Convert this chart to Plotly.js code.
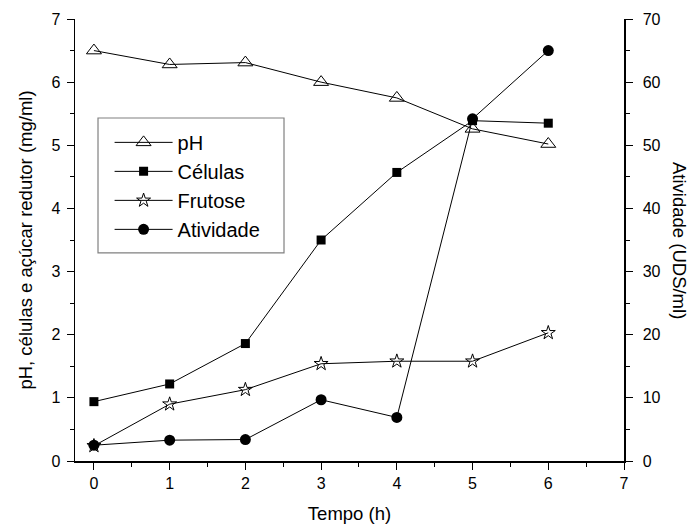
<!DOCTYPE html>
<html>
<head>
<meta charset="utf-8">
<script src="https://cdn.plot.ly/plotly-3.0.1.min.js"></script>
<style>html,body{margin:0;padding:0;background:#fff}#chart{width:693px;height:531px}</style>
</head>
<body>
<div id="chart"></div>
<script>
const tempo = [0, 1, 2, 3, 4, 5, 6];
const pH = [6.5, 6.28, 6.31, 6.0, 5.75, 5.26, 5.02];
const celulas = [0.94, 1.22, 1.86, 3.5, 4.57, 5.39, 5.35];
const frutose = [0.24, 0.9, 1.13, 1.54, 1.58, 1.58, 2.03];
const atividade = [2.5, 3.3, 3.4, 9.7, 6.9, 54.2, 65.0];

const font = 'Liberation Sans, Arial, sans-serif';
const line = {color: '#000', width: 1};

const traces = [
  {x: tempo, y: pH, name: 'pH', mode: 'lines+markers', line: line,
   marker: {symbol: 'triangle-up-open', size: 13, color: '#000', line: {width: 1, color: '#000'}}},
  {x: tempo, y: celulas, name: 'Células', mode: 'lines+markers', line: line,
   marker: {symbol: 'square', size: 9, color: '#000'}},
  {x: tempo, y: frutose, name: 'Frutose', mode: 'lines+markers', line: line,
   marker: {symbol: 'star-open', size: 10.5, color: '#000', line: {width: 1, color: '#000'}}},
  {x: tempo, y: atividade, name: 'Atividade', mode: 'lines+markers', line: line, yaxis: 'y2',
   marker: {symbol: 'circle', size: 11, color: '#000'}}
];

const layout = {
  width: 693, height: 531,
  margin: {l: 75, r: 69, t: 19, b: 70},
  paper_bgcolor: '#fff', plot_bgcolor: '#fff',
  font: {family: font, size: 16, color: '#000'},
  showlegend: true,
  legend: {x: 0.063, y: 0.765, xanchor: 'left', yanchor: 'top',
           borderwidth: 0, bgcolor: 'rgba(0,0,0,0)', itemwidth: 58,
           font: {family: font, size: 20, color: '#000'}, tracegroupgap: 0},
  shapes: [{type: 'rect', xref: 'paper', yref: 'paper', x0: 0.0419, x1: 0.3807, y0: 0.471, y1: 0.776,
            line: {color: '#808080', width: 1.2}, fillcolor: 'rgba(0,0,0,0)', layer: 'above'}],
  xaxis: {range: [-0.25, 7], tickvals: [0,1,2,3,4,5,6,7], ticks: 'outside', ticklen: 7,
          tickwidth: 1, tickcolor: '#000', showline: true, linecolor: '#000', linewidth: 1.5,
          showgrid: false, zeroline: false,
          minor: {dtick: 0.5, tick0: 0, ticks: 'outside', ticklen: 4, tickcolor: '#000', showgrid: false},
          title: {text: 'Tempo (h)', font: {size: 18.5}, standoff: 16}},
  xaxis2: {range: [-0.25, 7], overlaying: 'x', side: 'top', tickvals: [0,1,2,3,4,5,6,7],
           ticks: 'inside', ticklen: 7, tickcolor: '#000', showticklabels: false,
           showline: true, linecolor: '#000', linewidth: 1.5, showgrid: false, zeroline: false,
           minor: {dtick: 0.5, tick0: 0, ticks: 'inside', ticklen: 4, tickcolor: '#000', showgrid: false}},
  yaxis: {range: [0, 7], dtick: 1, tick0: 0, ticks: 'outside', ticklen: 7, tickcolor: '#000',
          ticklabelstandoff: 3,
          showline: true, linecolor: '#000', linewidth: 1.5, showgrid: false, zeroline: false,
          minor: {dtick: 0.5, tick0: 0, ticks: 'outside', ticklen: 4, tickcolor: '#000', showgrid: false},
          title: {text: 'pH, células e açúcar redutor (mg/ml)', font: {size: 18.5}, standoff: 14}},
  yaxis2: {range: [0, 70], dtick: 10, tick0: 0, overlaying: 'y', side: 'right', ticks: 'outside',
           ticklen: 7, tickcolor: '#000', showline: true, linecolor: '#000', linewidth: 1.5,
           ticklabelstandoff: 7,
           showgrid: false, zeroline: false,
           minor: {dtick: 5, tick0: 0, ticks: 'outside', ticklen: 4, tickcolor: '#000', showgrid: false}},
  annotations: [{text: 'Atividade (UDS/ml)', textangle: 90, xref: 'paper', yref: 'paper',
                 xanchor: 'center', yanchor: 'middle',
                 x: 1.0, xshift: 56, y: 0.5, showarrow: false, font: {family: font, size: 18.5, color: '#000'}}]
};

Plotly.newPlot('chart', traces, layout, {displayModeBar: false, staticPlot: true});
</script>
</body>
</html>
